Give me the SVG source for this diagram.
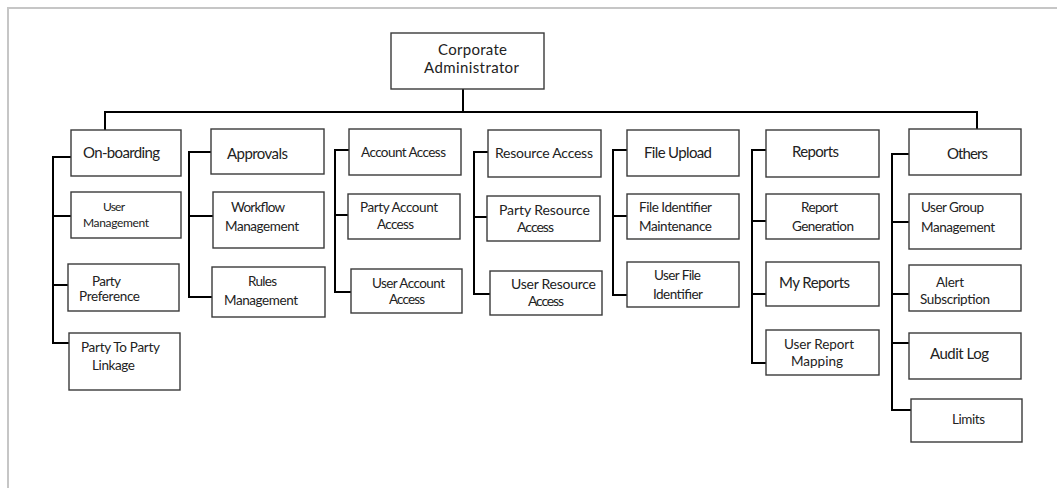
<svg xmlns="http://www.w3.org/2000/svg" width="1057" height="488" viewBox="0 0 1057 488">
<style>
.frame{fill:none;stroke:#c6c6c6;stroke-width:2}
.box{fill:#fff;stroke:#3a3a3a;stroke-width:1.4}
.conn{fill:none;stroke:#000;stroke-width:2}
text{font-family:Lato,"Liberation Sans",sans-serif;fill:#222;font-size:13.5px}
.big{font-size:15px}
.mid{font-size:14px}
.sm{font-size:12px}
</style>
<rect x="0" y="0" width="1057" height="488" fill="#fff"/>
<path class="frame" d="M1057,8 H8 V488"/>
<g id="connectors">
<path class="conn" d="M463,89 V112 M105,130 V112 H977 V129"/>
<path class="conn" d="M71,157 H53 V343 H69 M53,216 H71 M53,285 H68"/>
<path class="conn" d="M211,152 H189 V297 H212 M189,216 H213"/>
<path class="conn" d="M349,150 H335 V292 H351 M335,215 H348"/>
<path class="conn" d="M488,152 H474 V294 H490 M474,217 H487"/>
<path class="conn" d="M627,150 H613 V295 H627 M613,216 H627"/>
<path class="conn" d="M766,150 H752 V363 H766 M752,221 H766 M752,294 H766"/>
<path class="conn" d="M909,154 H892 V410 H911 M892,222 H909 M892,294 H909 M892,343 H909"/>
</g>
<g id="corporate-administrator">
<rect class="box" x="391" y="33" width="153" height="56"/>
<text class="big" x="438" y="55" textLength="69">Corporate</text>
<text class="big" x="424" y="73" textLength="95">Administrator</text>
</g>
<g id="on-boarding">
<rect class="box" x="71" y="130" width="110" height="46"/>
<text class="big" x="83" y="158" textLength="77">On-boarding</text>
</g>
<g id="user-management">
<rect class="box" x="71" y="192" width="110" height="46"/>
<text class="sm" x="103" y="211" textLength="22">User</text>
<text class="sm" x="83" y="227" textLength="66">Management</text>
</g>
<g id="party-preference">
<rect class="box" x="68" y="264" width="111" height="47"/>
<text x="92" y="286" textLength="29">Party</text>
<text x="79" y="301" textLength="61">Preference</text>
</g>
<g id="party-to-party-linkage">
<rect class="box" x="69" y="333" width="111" height="57"/>
<text x="81" y="352" textLength="79">Party To Party</text>
<text x="92" y="370" textLength="43">Linkage</text>
</g>
<g id="approvals">
<rect class="box" x="211" y="129" width="113" height="45"/>
<text class="big" x="227" y="159" textLength="61">Approvals</text>
</g>
<g id="workflow-management">
<rect class="box" x="213" y="192" width="111" height="56"/>
<text x="231" y="212" textLength="54">Workflow</text>
<text x="225" y="231" textLength="74">Management</text>
</g>
<g id="rules-management">
<rect class="box" x="212" y="267" width="113" height="50"/>
<text x="248" y="286" textLength="29">Rules</text>
<text x="224" y="305" textLength="74">Management</text>
</g>
<g id="account-access">
<rect class="box" x="349" y="129" width="112" height="46"/>
<text x="361" y="157" textLength="85">Account Access</text>
</g>
<g id="party-account-access">
<rect class="box" x="348" y="194" width="112" height="45"/>
<text x="360" y="212" textLength="78">Party Account</text>
<text x="377" y="229" textLength="37">Access</text>
</g>
<g id="user-account-access">
<rect class="box" x="351" y="269" width="111" height="44"/>
<text x="372" y="288" textLength="73">User Account</text>
<text x="389" y="304" textLength="36">Access</text>
</g>
<g id="resource-access">
<rect class="box" x="488" y="130" width="113" height="47"/>
<text class="mid" x="495" y="158" textLength="98">Resource Access</text>
</g>
<g id="party-resource-access">
<rect class="box" x="487" y="196" width="113" height="45"/>
<text class="mid" x="499" y="215" textLength="91">Party Resource</text>
<text class="mid" x="517" y="232" textLength="37">Access</text>
</g>
<g id="user-resource-access">
<rect class="box" x="490" y="271" width="112" height="44"/>
<text class="mid" x="511" y="289" textLength="85">User Resource</text>
<text class="mid" x="528" y="306" textLength="36">Access</text>
</g>
<g id="file-upload">
<rect class="box" x="627" y="130" width="112" height="46"/>
<text class="big" x="644" y="158" textLength="68">File Upload</text>
</g>
<g id="file-identifier-maintenance">
<rect class="box" x="627" y="194" width="112" height="45"/>
<text x="639" y="212" textLength="73">File Identifier</text>
<text x="639" y="231" textLength="73">Maintenance</text>
</g>
<g id="user-file-identifier">
<rect class="box" x="627" y="262" width="112" height="45"/>
<text x="654" y="280" textLength="47">User File</text>
<text x="653" y="299" textLength="50">Identifier</text>
</g>
<g id="reports">
<rect class="box" x="766" y="130" width="113" height="47"/>
<text class="big" x="792" y="157" textLength="47">Reports</text>
</g>
<g id="report-generation">
<rect class="box" x="766" y="194" width="113" height="45"/>
<text x="801" y="212" textLength="37">Report</text>
<text x="792" y="231" textLength="62">Generation</text>
</g>
<g id="my-reports">
<rect class="box" x="766" y="262" width="113" height="44"/>
<text class="big" x="779" y="288" textLength="71">My Reports</text>
</g>
<g id="user-report-mapping">
<rect class="box" x="766" y="330" width="113" height="45"/>
<text x="784" y="349" textLength="70">User Report</text>
<text x="791" y="366" textLength="52">Mapping</text>
</g>
<g id="others">
<rect class="box" x="909" y="129" width="112" height="46"/>
<text class="big" x="947" y="159" textLength="41">Others</text>
</g>
<g id="user-group-management">
<rect class="box" x="909" y="194" width="112" height="55"/>
<text x="921" y="212" textLength="63">User Group</text>
<text x="921" y="232" textLength="74">Management</text>
</g>
<g id="alert-subscription">
<rect class="box" x="909" y="265" width="112" height="46"/>
<text x="936" y="287" textLength="28">Alert</text>
<text x="920" y="304" textLength="70">Subscription</text>
</g>
<g id="audit-log">
<rect class="box" x="909" y="333" width="112" height="46"/>
<text class="big" x="930" y="359" textLength="59">Audit Log</text>
</g>
<g id="limits">
<rect class="box" x="911" y="399" width="111" height="43"/>
<text x="952" y="424" textLength="33">Limits</text>
</g>
</svg>
